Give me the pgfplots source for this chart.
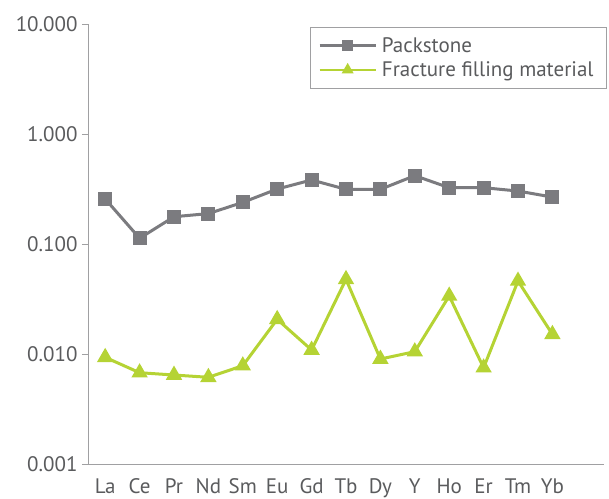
\documentclass[border=0pt]{standalone}
\usepackage{pgfplots}
\pgfplotsset{compat=1.18}
\usepackage{fontspec}
\setmainfont{PT Sans}
\definecolor{txt}{HTML}{5A5B5D}
\definecolor{axc}{HTML}{A0A0A2}
\definecolor{pk}{HTML}{7B7B7F}
\definecolor{fr}{HTML}{B5D334}
\begin{document}
\begin{tikzpicture}
\begin{axis}[
  scale only axis, width=516bp, height=440bp,
  ymode=log, ymin=0.001, ymax=10,
  xmin=-0.5, xmax=14.5,
  axis lines=left, axis line style={-, draw=axc, line width=0.8bp},
  xtick={0,...,13},
  xticklabels={La,Ce,Pr,Nd,Sm,Eu,Gd,Tb,Dy,Y,Ho,Er,Tm,Yb},
  minor xtick={-0.5,0.5,...,14.5},
  ytick={0.001,0.01,0.1,1,10},
  yticklabels={0.001,0.010,0.100,1.000,10.000},
  yminorticks=false,
  tick align=outside,
  xtick style={draw=none},
  minor tick style={draw=axc, line width=0.8bp},
  minor tick length=5bp,
  ytick style={draw=axc, line width=0.8bp},
  major tick length=6bp,
  tick label style={font=\fontsize{21bp}{22bp}\selectfont, text=txt},
  xticklabel style={yshift=-5bp},
  yticklabel style={xshift=-1bp},
  legend style={at={(rel axis cs:1,1)}, anchor=north east, xshift=3bp, yshift=-3bp,
    draw=axc, line width=0.8bp,
    font=\fontsize{21bp}{22bp}\selectfont, text=txt, inner xsep=8bp, inner ysep=8bp,
    row sep=4bp, nodes={inner xsep=5bp}},
  legend cell align=left,
  legend image code/.code={
    \draw[mark repeat=2, mark phase=2, #1, line width=2.5bp, mark size=4.5bp]
      plot coordinates {(0bp,0bp) (28bp,0bp) (56bp,0bp)};
  },
]
\addplot[pk, line width=3bp, mark=square*, mark size=5.5bp, mark options={solid}] coordinates {
(0,0.2566) (1,0.1127) (2,0.177) (3,0.189) (4,0.239) (5,0.316) (6,0.382)
(7,0.314) (8,0.314) (9,0.418) (10,0.325) (11,0.325) (12,0.303) (13,0.267)};
\addlegendentry{Packstone}
\addplot[fr, line width=3bp, mark=triangle*, mark size=6.5bp, mark options={solid}] coordinates {
(0,0.00933) (1,0.00676) (2,0.00644) (3,0.00614) (4,0.00783) (5,0.02067) (6,0.01087)
(7,0.0477) (8,0.0090) (9,0.0105) (10,0.0337) (11,0.0075) (12,0.0461) (13,0.0151)};
\addlegendentry{Fracture filling material}
\coordinate (ll) at (rel axis cs:0,0);
\coordinate (ur) at (rel axis cs:1,1);
\end{axis}
\pgfresetboundingbox
\path (ll) ++(-88bp,-35bp) coordinate (a) (ur) ++(5bp,24bp) coordinate (b);
\path (a) rectangle (b);
\end{tikzpicture}
\end{document}
